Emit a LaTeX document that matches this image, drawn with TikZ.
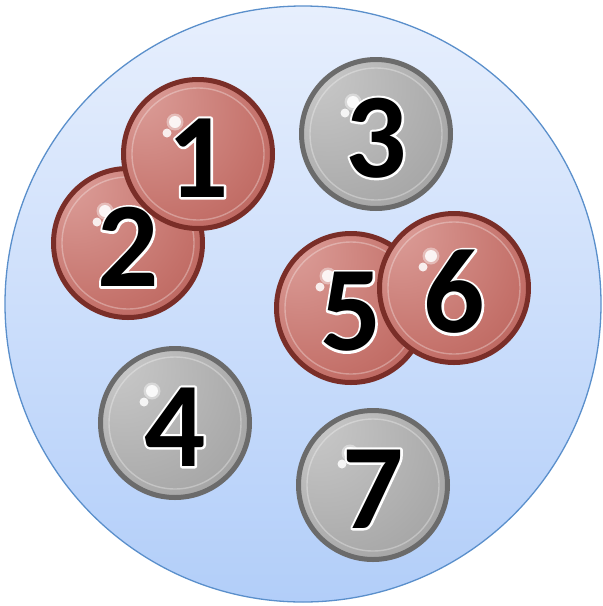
\documentclass[tikz,border=0pt]{standalone}
\usepackage{fontspec}
\usetikzlibrary{positioning}
\newfontfamily\numfont{Carlito}
% black digits with a white stroke round them
\newcommand\outlined[1]{\rlap{\color{white}\special{pdf:code q 1 1 1 RG 4.6 w 1 j 2 Tr}#1\special{pdf:code Q}}#1}

\definecolor{poolTop}{HTML}{E7EFFD}
\definecolor{poolBottom}{HTML}{B2CEF9}
\definecolor{poolEdge}{HTML}{5A8FCB}
\definecolor{redLight}{HTML}{DDA09B}
\definecolor{redMid}{HTML}{C4716A}
\definecolor{redDark}{HTML}{A4463E}
\definecolor{redEdge}{HTML}{7A2E28}
\definecolor{grayLight}{HTML}{CACACA}
\definecolor{grayMid}{HTML}{ABABAB}
\definecolor{grayDark}{HTML}{8D8D8D}
\definecolor{grayEdge}{HTML}{6B6B6B}

\pgfdeclareradialshading{redshade}{\pgfpoint{-22bp}{22bp}}{color(0bp)=(redLight); color(35bp)=(redMid); color(70bp)=(redDark); color(85bp)=(redDark)}
\pgfdeclareradialshading{grayshade}{\pgfpoint{-22bp}{22bp}}{color(0bp)=(grayLight); color(35bp)=(grayMid); color(70bp)=(grayDark); color(85bp)=(grayDark)}

\begin{document}
\begin{tikzpicture}[
        x=1pt, y=-1pt,
        ball/.style={circle, inner sep=0pt, minimum size=149pt, line width=5pt},
        red ball/.style={ball, draw=redEdge, shading=redshade},
        gray ball/.style={ball, draw=grayEdge, shading=grayshade},
        ring/.style={white, opacity=0.3, line width=1.4pt},
        glint/.style={white, opacity=0.85},
        num/.style={inner sep=0pt, font=\numfont\bfseries\fontsize{121}{121}\selectfont}
    ]
        \useasboundingbox (0,0) rectangle (603,606);

        % Pool
        \node[circle, minimum size=596pt, inner sep=0pt, draw=poolEdge, line width=1.3pt,
            top color=poolTop, bottom color=poolBottom] (pool) at (303,304) {};

        % Balls
        \foreach \n/\x/\y/\c in {2/128/243/red, 1/198/154/red, 3/376/134/gray,
                4/175/423/gray, 5/351/308/red, 6/454/288/red, 7/373/485/gray} {
            \node[\c\space ball] (b\n) at (\x,\y) {};
            \draw[ring] (b\n.center) circle[radius=66];
            \fill[glint, opacity=0.4] ([shift={(-23,-32)}]b\n.center) circle[radius=8.5];
            \fill[glint] ([shift={(-23,-32)}]b\n.center) circle[radius=6];
            \fill[glint] ([shift={(-31,-21)}]b\n.center) circle[radius=4.5];
            \node[num] (n\n) at ([yshift=-4pt]b\n.center) {\outlined{\n}};
        }
    \end{tikzpicture}
\end{document}
